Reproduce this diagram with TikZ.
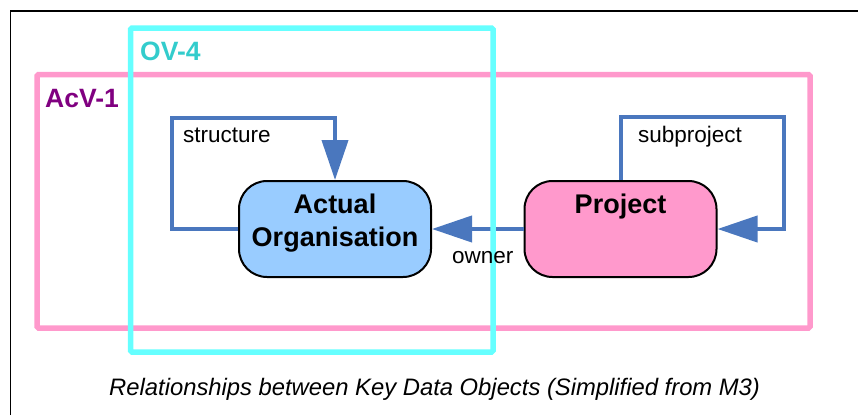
\documentclass[tikz,border=0pt]{standalone}
\usepackage{fontspec}
\setmainfont{Liberation Sans}
\usetikzlibrary{arrows.meta}
\definecolor{pinkline}{HTML}{FF99CC}
\definecolor{cyanline}{HTML}{66FFFF}
\definecolor{ovtext}{HTML}{33CCCC}
\definecolor{acvtext}{HTML}{800080}
\definecolor{conn}{HTML}{4A77BE}
\definecolor{orgfill}{HTML}{99CCFF}
\definecolor{projfill}{HTML}{FF99CC}
\tikzset{
  frameline/.style={line width=1.6pt, black},
  viewbox/.style={line width=5.5pt, rounded corners=1.5pt},
  entity/.style={draw=black, line width=2pt, rounded corners=28pt, minimum width=192pt, minimum height=96pt, inner sep=0pt},
  conline/.style={conn, line width=4pt, -{Triangle[length=40pt,width=26pt]}},
  lbl/.style={inner sep=0pt, anchor=base west},
  boxtext/.style={inner sep=0pt, anchor=base, font=\fontsize{27}{33}\selectfont\bfseries},
  small/.style={font=\fontsize{22.5}{26}\selectfont},
  viewlbl/.style={font=\fontsize{26.5}{30}\selectfont\bfseries},
}
\begin{document}
\begin{tikzpicture}[x=1pt,y=-1pt]
\useasboundingbox (0,0) rectangle (858,415);
% outer frame (top and left only visible)
\draw[frameline] (10.5,415) -- (10.5,11) -- (858,11);
% AcV-1 view
\draw[viewbox, pinkline] (37,74.5) rectangle (810,328);
% entities
\node[entity, fill=orgfill] (org) at (335,229) {};
\node[entity, fill=projfill] (proj) at (620.5,229) {};
% connectors
\coordinate (s1) at (172,229);
\coordinate (s2) at (172,118);
\coordinate (s3) at (335,118);
\draw[conline] (org.west) -- (s1) -- (s2) -- (s3) -- (org.north);
\coordinate (p1) at (620.5,117);
\coordinate (p2) at (784,117);
\coordinate (p3) at (784,229);
\draw[conline] (proj.north) -- (p1) -- (p2) -- (p3) -- (proj.east);
\draw[conline] (proj.west) -- (org.east);
% OV-4 view
\draw[viewbox, cyanline] (130.5,28) rectangle (493,352);
% labels
\node[lbl, viewlbl, text=ovtext] (ovl) at (140,60) {OV-4};
\node[lbl, viewlbl, text=acvtext] (acvl) at (45,107.5) {AcV-1};
\node[lbl, small] (strl) at (183,142.5) {structure};
\node[lbl, small] (subl) at (638,142) {subproject};
\node[lbl, small] (ownl) at (452,263.5) {owner};
\node[boxtext] (t1) at (335,213) {Actual};
\node[boxtext] (t2) at (335,246) {Organisation};
\node[boxtext] (t3) at (620.5,213) {Project};
\node[lbl, font=\fontsize{23.8}{28}\selectfont\itshape] (cap) at (109,395) {Relationships between Key Data Objects (Simplified from M3)};
\end{tikzpicture}
\end{document}
